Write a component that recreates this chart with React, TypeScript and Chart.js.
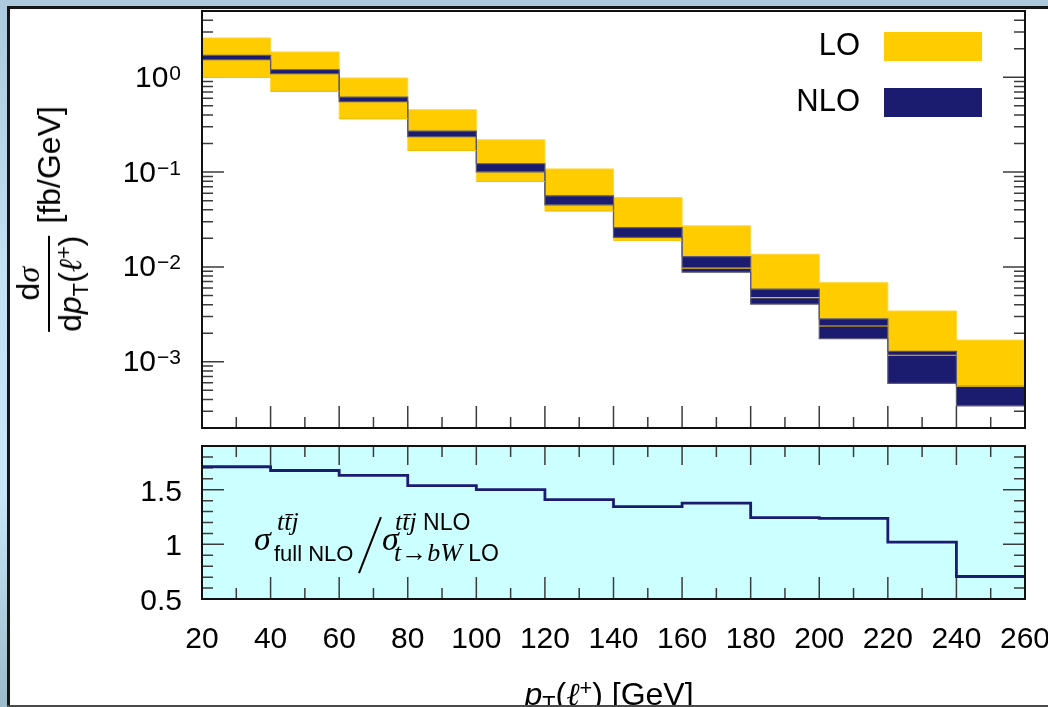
import React, { useEffect, useRef } from "react";
import { Chart, registerables } from "chart.js";

Chart.register(...registerables);

// ---------- data ----------
const binEdges = [20, 40, 60, 80, 100, 120, 140, 160, 180, 200, 220, 240, 260];
const loHigh = [2.6, 1.85, 0.983, 0.455, 0.219, 0.108, 0.0539, 0.0271, 0.0136, 0.00682, 0.00343, 0.00169];
const loLow = [1.0, 0.71, 0.366, 0.169, 0.0796, 0.039, 0.0191, 0.00969, 0.00474, 0.00238, 0.00117, 0.000554];
const nloHigh = [1.7, 1.2, 0.619, 0.271, 0.1225, 0.0562, 0.026, 0.01285, 0.00582, 0.00283, 0.00129, 0.000554];
const nloLow = [1.53, 1.09, 0.552, 0.236, 0.1007, 0.0452, 0.0205, 0.00879, 0.00406, 0.00175, 0.000592, 0.000343];
const ratio = [1.71, 1.676, 1.632, 1.537, 1.5, 1.41, 1.345, 1.377, 1.244, 1.238, 1.02, 0.706];
const xTickLabels = [20, 40, 60, 80, 100, 120, 140, 160, 180, 200, 220, 240, 260];
const topYExponents = [0, -1, -2, -3];
const ratioTickLabels = [0.5, 1, 1.5];

// ---------- style ----------
const SANS = "'Liberation Sans', Arial, sans-serif";
const SERIF = "'Liberation Serif', 'DejaVu Serif', serif";
const LO_COLOR = "#ffcc00";
const NLO_COLOR = "#1b1b70";
const RATIO_BG = "#ccffff";
const TICK_COLOR = "#3c3c3c";
const FRAME_COLOR = "#111111";
const MAJOR = 22;
const MINOR = 11;

function stepPoints(values: number[]) {
  return binEdges.map((x, i) => ({ x, y: values[Math.min(i, values.length - 1)] }));
}

function edgeSegments(values: number[]) {
  const pts: { x: number; y: number | null }[] = [];
  values.forEach((v, i) => {
    pts.push({ x: binEdges[i], y: v }, { x: binEdges[i + 1], y: v }, { x: binEdges[i + 1], y: null });
  });
  return pts;
}

function drawXTicks(ctx: CanvasRenderingContext2D, x: any, a: any, bottom: boolean, top: boolean, topMajor: number) {
  for (let v = x.min; v <= x.max + 1e-9; v += 10) {
    const px = x.getPixelForValue(v);
    const major = Math.round(v - x.min) % 20 === 0;
    if (bottom) {
      ctx.moveTo(px, a.bottom);
      ctx.lineTo(px, a.bottom - (major ? MAJOR : MINOR));
    }
    if (top) {
      ctx.moveTo(px, a.top);
      ctx.lineTo(px, a.top + (major ? topMajor : MINOR));
    }
  }
}

function drawFrame(ctx: CanvasRenderingContext2D, a: any) {
  ctx.save();
  ctx.strokeStyle = FRAME_COLOR;
  ctx.lineWidth = 2;
  ctx.strokeRect(a.left, a.top, a.right - a.left, a.bottom - a.top);
  ctx.restore();
}

const topPlugin = {
  id: "topDecor",
  beforeDatasetsDraw(chart: any) {
    const { ctx, chartArea: a, scales } = chart;
    const x = scales.x;
    const y = scales.y;
    ctx.save();
    ctx.strokeStyle = TICK_COLOR;
    ctx.lineWidth = 1.5;
    ctx.beginPath();
    const d0 = Math.floor(Math.log10(y.min));
    const d1 = Math.floor(Math.log10(y.max));
    for (let d = d0; d <= d1; d++) {
      for (let k = 1; k <= 9; k++) {
        const v = k * Math.pow(10, d);
        if (v < y.min * 0.999 || v > y.max * 1.001) continue;
        const py = y.getPixelForValue(v);
        const len = k === 1 ? MAJOR : MINOR;
        ctx.moveTo(a.left, py);
        ctx.lineTo(a.left + len, py);
        ctx.moveTo(a.right, py);
        ctx.lineTo(a.right - len, py);
      }
    }
    drawXTicks(ctx, x, a, true, false, MAJOR);
    ctx.stroke();
    ctx.restore();
  },
  afterDraw(chart: any) {
    const { ctx, chartArea: a, scales } = chart;
    const y = scales.y;
    drawFrame(ctx, a);
    ctx.save();
    ctx.fillStyle = "#000";
    ctx.textBaseline = "alphabetic";
    ctx.textAlign = "right";
    const right = a.left - 21;
    topYExponents.forEach((e) => {
      const py = y.getPixelForValue(Math.pow(10, e));
      const exp = e === 0 ? "0" : "\u2212" + Math.abs(e);
      ctx.font = `21px ${SANS}`;
      const w = ctx.measureText(exp).width;
      ctx.fillText(exp, right, py + 2.5);
      ctx.font = `30px ${SANS}`;
      ctx.fillText("10", right - w - 1, py + 9.5);
    });
    ctx.restore();
  },
};

const bottomPlugin = {
  id: "bottomDecor",
  beforeDraw(chart: any) {
    const { ctx, chartArea: a } = chart;
    ctx.save();
    ctx.fillStyle = RATIO_BG;
    ctx.fillRect(a.left, a.top, a.right - a.left, a.bottom - a.top);
    ctx.restore();
  },
  beforeDatasetsDraw(chart: any) {
    const { ctx, chartArea: a, scales } = chart;
    const x = scales.x;
    const y = scales.y;
    ctx.save();
    ctx.strokeStyle = TICK_COLOR;
    ctx.lineWidth = 1.5;
    ctx.beginPath();
    for (let i = Math.round(y.min * 10); i <= Math.round(y.max * 10); i++) {
      const py = y.getPixelForValue(i / 10);
      const len = i % 5 === 0 ? MAJOR : MINOR;
      ctx.moveTo(a.left, py);
      ctx.lineTo(a.left + len, py);
      ctx.moveTo(a.right, py);
      ctx.lineTo(a.right - len, py);
    }
    drawXTicks(ctx, x, a, true, true, 19);
    ctx.stroke();
    ctx.restore();
  },
  afterDraw(chart: any) {
    const { ctx, chartArea: a, scales } = chart;
    const x = scales.x;
    const y = scales.y;
    drawFrame(ctx, a);
    ctx.save();
    ctx.fillStyle = "#000";
    ctx.font = `30px ${SANS}`;
    ctx.textBaseline = "alphabetic";
    ctx.textAlign = "right";
    ratioTickLabels.forEach((v) => {
      ctx.fillText(String(v), a.left - 20, y.getPixelForValue(v) + 11);
    });
    ctx.textAlign = "center";
    xTickLabels.forEach((v) => {
      ctx.fillText(String(v), x.getPixelForValue(v), a.bottom + 49);
    });
    ctx.restore();
  },
};

const baseOptions = (padding: any, yScale: any) => ({
  responsive: false,
  maintainAspectRatio: false,
  animation: false as const,
  devicePixelRatio: 1,
  layout: { padding },
  scales: {
    x: { type: "linear" as const, min: 20, max: 260, display: false },
    y: { ...yScale, display: false },
  },
  plugins: { legend: { display: false }, tooltip: { enabled: false } },
  elements: { point: { radius: 0 } },
});

function Sub({ children }: { children: any }) {
  return <span style={{ fontSize: "0.68em", position: "relative", top: "0.3em" }}>{children}</span>;
}
function Sup({ children }: { children: any }) {
  return <span style={{ fontSize: "0.68em", position: "relative", top: "-0.45em" }}>{children}</span>;
}

function Txt({ left, base, size, font, italic, children }: any) {
  const k = font === SERIF ? 0.8375 : 0.8465;
  return (
    <div
      style={{
        position: "absolute",
        left,
        top: base - k * size,
        fontFamily: font,
        fontSize: size,
        lineHeight: `${size}px`,
        fontStyle: italic ? "italic" : "normal",
        whiteSpace: "nowrap",
        color: "#000",
      }}
    >
      {children}
    </div>
  );
}

export default function App() {
  const topRef = useRef<HTMLCanvasElement | null>(null);
  const botRef = useRef<HTMLCanvasElement | null>(null);

  useEffect(() => {
    const top = new Chart(topRef.current as HTMLCanvasElement, {
      type: "line",
      data: {
        datasets: [
          {
            label: "LO",
            data: stepPoints(loHigh),
            stepped: "before",
            borderColor: "rgba(255,214,60,1)",
            borderWidth: 1,
            backgroundColor: LO_COLOR,
            fill: 1,
            order: 4,
            pointRadius: 0,
          },
          {
            label: "LO low",
            data: stepPoints(loLow),
            stepped: "before",
            borderColor: "rgba(255,214,60,1)",
            borderWidth: 1,
            fill: false,
            order: 3,
            pointRadius: 0,
          },
          {
            label: "NLO",
            data: stepPoints(nloHigh),
            stepped: "before",
            borderColor: "#5a5a7c",
            borderWidth: 1.2,
            backgroundColor: NLO_COLOR,
            fill: 3,
            order: 2,
            pointRadius: 0,
          },
          {
            label: "NLO low",
            data: stepPoints(nloLow),
            stepped: "before",
            borderColor: "#5a5a7c",
            borderWidth: 1.2,
            fill: false,
            order: 1,
            pointRadius: 0,
          },
          {
            label: "LO low edge",
            data: edgeSegments(loLow),
            borderColor: "#f0c000",
            borderWidth: 1.2,
            fill: false,
            spanGaps: false,
            order: 0,
            pointRadius: 0,
          },
        ],
      } as any,
      options: baseOptions({ left: 202, right: 23, top: 11, bottom: 12 }, { type: "logarithmic", min: 2e-4, max: 5 }) as any,
      plugins: [topPlugin],
    });

    const bottom = new Chart(botRef.current as HTMLCanvasElement, {
      type: "line",
      data: {
        datasets: [
          {
            label: "ratio",
            data: stepPoints(ratio),
            stepped: "before",
            borderColor: NLO_COLOR,
            borderWidth: 2.8,
            fill: false,
            pointRadius: 0,
          },
        ],
      } as any,
      options: baseOptions({ left: 202, right: 23, top: 16, bottom: 108 }, { type: "linear", min: 0.5, max: 1.9 }) as any,
      plugins: [bottomPlugin],
    });

    return () => {
      top.destroy();
      bottom.destroy();
    };
  }, []);

  return (
    <div
      style={{
        position: "fixed",
        left: 0,
        top: 0,
        width: 1048,
        height: 707,
        overflow: "hidden",
        background: "linear-gradient(180deg, #adc9dc 0%, #c4e2f4 40%, #c8e6f8 70%, #9dbaca 100%)",
      }}
    >
      {/* white panel */}
      <div
        style={{
          position: "absolute",
          left: 7,
          top: 6,
          width: 1100,
          height: 701,
          background: "#ffffff",
          borderLeft: "3px solid #151515",
          borderTop: "3px solid #151515",
          boxSizing: "border-box",
        }}
      />
      <canvas
        ref={topRef}
        width={1048}
        height={440}
        style={{ position: "absolute", left: 0, top: 0, width: 1048, height: 440 }}
      />
      <canvas
        ref={botRef}
        width={1048}
        height={277}
        style={{ position: "absolute", left: 0, top: 430, width: 1048, height: 277 }}
      />

      {/* legend */}
      <div style={{ position: "absolute", left: 0, width: 860, top: 28.8, textAlign: "right", fontFamily: SANS, fontSize: 31, lineHeight: "31px" }}>LO</div>
      <div style={{ position: "absolute", left: 884, top: 32, width: 98, height: 29, background: LO_COLOR }} />
      <div style={{ position: "absolute", left: 0, width: 860, top: 84.8, textAlign: "right", fontFamily: SANS, fontSize: 31, lineHeight: "31px" }}>NLO</div>
      <div style={{ position: "absolute", left: 884, top: 88, width: 98, height: 29, background: NLO_COLOR }} />

      {/* y-axis title */}
      <div
        style={{
          position: "absolute",
          left: 49,
          top: 219,
          transform: "translate(-50%, -50%) rotate(-90deg)",
          display: "flex",
          alignItems: "center",
          whiteSpace: "nowrap",
          fontFamily: SANS,
          fontSize: 32,
          lineHeight: 1,
          color: "#000",
        }}
      >
        <div style={{ display: "flex", flexDirection: "column", alignItems: "center" }}>
          <div style={{ paddingBottom: 4 }}>
            d<span style={{ fontFamily: SERIF, fontStyle: "italic" }}>σ</span>
          </div>
          <div style={{ alignSelf: "stretch", height: 2, background: "#000" }} />
          <div style={{ paddingTop: 4 }}>
            d<span style={{ fontStyle: "italic" }}>p</span>
            <Sub>T</Sub>(<span style={{ fontFamily: SERIF, fontStyle: "italic" }}>ℓ</span>
            <Sup>+</Sup>)
          </div>
        </div>
        <div style={{ marginLeft: 12 }}>[fb/GeV]</div>
      </div>

      {/* ratio annotation */}
      <Txt left={254} base={550} size={34} font={SERIF} italic>σ</Txt>
      <Txt left={277} base={531} size={26} font={SERIF} italic>{"tt\u0304j"}</Txt>
      <Txt left={274} base={562} size={22} font={SANS}>full NLO</Txt>
      <div
        style={{
          position: "absolute",
          left: 368.5,
          top: 515,
          width: 1.5,
          height: 60,
          background: "#000",
          transform: "rotate(21.4deg)",
        }}
      />
      <Txt left={382} base={550} size={34} font={SERIF} italic>σ</Txt>
      <Txt left={395} base={531} size={26} font={SERIF}>
        <span style={{ fontStyle: "italic" }}>{"tt\u0304j"}</span>
        <span style={{ fontFamily: SANS, fontSize: 23 }}> NLO</span>
      </Txt>
      <Txt left={394} base={562} size={26} font={SERIF}>
        <span style={{ fontStyle: "italic" }}>t→bW</span>
        <span style={{ fontFamily: SANS, fontSize: 23 }}> LO</span>
      </Txt>

      {/* x-axis title */}
      <div
        style={{
          position: "absolute",
          left: 0,
          width: 1218,
          top: 705 - 0.8465 * 32,
          textAlign: "center",
          fontFamily: SANS,
          fontSize: 32,
          lineHeight: "32px",
          whiteSpace: "nowrap",
        }}
      >
        <span style={{ fontStyle: "italic" }}>p</span>
        <Sub>T</Sub>(<span style={{ fontFamily: SERIF, fontStyle: "italic" }}>ℓ</span>
        <Sup>+</Sup>) [GeV]
      </div>

      {/* bottom edge line of panel */}
      <div style={{ position: "absolute", left: 7, top: 705, width: 1100, height: 2, background: "#4a4a4a" }} />
    </div>
  );
}
